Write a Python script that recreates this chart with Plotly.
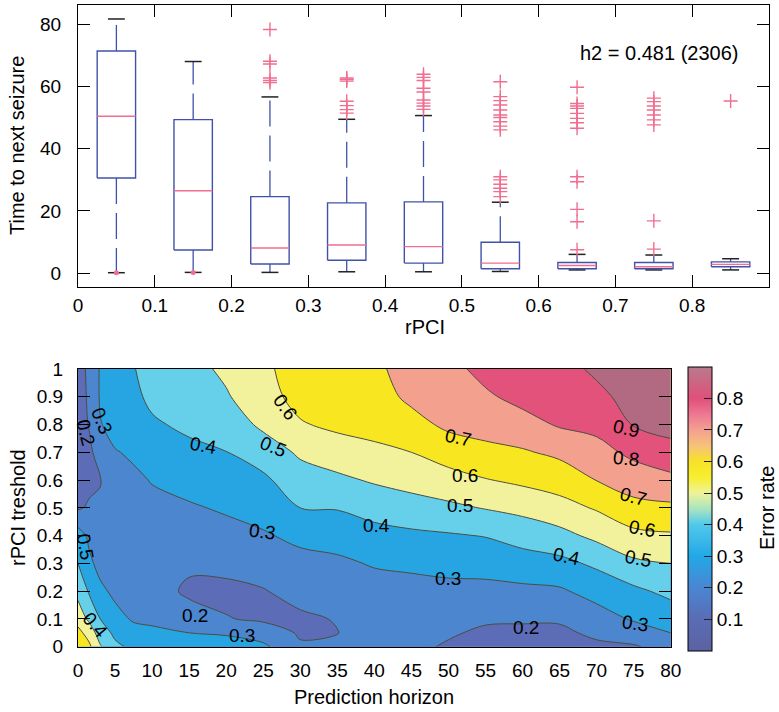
import plotly.graph_objects as go

# ---------------- top panel: box statistics ----------------
rpci = [0.05, 0.15, 0.25, 0.35, 0.45, 0.55, 0.65, 0.75, 0.85]
whisker_low = [0.1, 0.2, 0.2, 0.4, 0.4, 0.5, 1.0, 1.0, 1.0]
q1 = [30.6, 7.4, 2.9, 4.1, 3.2, 1.4, 1.4, 1.4, 2.0]
median = [50.5, 26.5, 8.05, 9.0, 8.5, 3.2, 2.4, 2.0, 2.8]
q3 = [71.5, 49.4, 24.6, 22.6, 22.9, 9.9, 3.4, 3.4, 3.6]
whisker_high = [81.8, 68.1, 56.7, 49.5, 50.7, 22.8, 6.0, 5.8, 4.6]

outlier_x = ([0.25] * 6 + [0.35] * 7 + [0.45] * 9 + [0.55] * 16 +
             [0.65] * 13 + [0.75] * 9 + [0.85] * 1)
outlier_y = ([78.4, 68.2, 67.3, 62.8, 62.0, 61.3] +
             [62.8, 62.3, 61.8, 55.3, 53.9, 52.6, 51.5] +
             [64.0, 63.0, 62.0, 59.5, 58.3, 55.7, 54.7, 53.8, 52.7] +
             [61.6, 56.8, 55.5, 54.1, 52.5, 50.9, 50.1, 48.7, 47.3, 46.1,
              31.0, 30.0, 28.6, 27.3, 26.2, 24.6] +
             [59.8, 54.6, 53.8, 53.0, 51.4, 49.8, 48.4, 46.6, 31.0, 29.4,
              20.5, 16.5, 7.5] +
             [56.3, 55.2, 53.8, 52.5, 50.9, 49.3, 47.7, 16.8, 7.7] +
             [55.4])
low_dot_x = [0.05, 0.15]
low_dot_y = [0.1, 0.2]

# ---------------- bottom panel: error-rate grid ----------------
horizon = [0, 1.5, 3, 5, 7.5, 10, 15, 20, 25, 30, 35, 40, 45, 50, 55, 60, 65, 70, 75, 80]
threshold = [0, 0.05, 0.1, 0.2, 0.3, 0.4, 0.5, 0.6, 0.7, 0.8, 0.9, 1.0]
# one list per horizon column (values from threshold 0 to 1)
error_cols = [
    [0.70, 0.63, 0.56, 0.47, 0.40, 0.345, 0.19, 0.15, 0.15, 0.16, 0.17, 0.18],
    [0.62, 0.56, 0.48, 0.39, 0.32, 0.28, 0.21, 0.18, 0.18, 0.205, 0.21, 0.21],
    [0.51, 0.45, 0.40, 0.32, 0.27, 0.24, 0.215, 0.195, 0.24, 0.295, 0.31, 0.31],
    [0.42, 0.38, 0.33, 0.28, 0.26, 0.255, 0.26, 0.27, 0.295, 0.33, 0.355, 0.37],
    [0.38, 0.33, 0.29, 0.26, 0.25, 0.255, 0.27, 0.285, 0.312, 0.35, 0.38, 0.395],
    [0.37, 0.32, 0.28, 0.25, 0.24, 0.25, 0.28, 0.304, 0.346, 0.387, 0.42, 0.44],
    [0.33, 0.30, 0.25, 0.18, 0.22, 0.25, 0.29, 0.333, 0.376, 0.42, 0.45, 0.465],
    [0.32, 0.295, 0.205, 0.175, 0.23, 0.27, 0.311, 0.354, 0.398, 0.444, 0.49, 0.52],
    [0.32, 0.25, 0.185, 0.195, 0.24, 0.29, 0.337, 0.382, 0.446, 0.52, 0.565, 0.58],
    [0.21, 0.19, 0.185, 0.23, 0.27, 0.323, 0.40, 0.456, 0.515, 0.592, 0.63, 0.645],
    [0.23, 0.198, 0.205, 0.25, 0.28, 0.343, 0.405, 0.48, 0.553, 0.62, 0.645, 0.655],
    [0.22, 0.225, 0.23, 0.255, 0.309, 0.368, 0.435, 0.511, 0.581, 0.63, 0.66, 0.675],
    [0.22, 0.225, 0.235, 0.26, 0.322, 0.381, 0.46, 0.535, 0.60, 0.667, 0.72, 0.75],
    [0.19, 0.21, 0.231, 0.275, 0.328, 0.391, 0.48, 0.563, 0.644, 0.72, 0.755, 0.77],
    [0.17, 0.185, 0.212, 0.273, 0.336, 0.404, 0.505, 0.595, 0.676, 0.735, 0.785, 0.83],
    [0.16, 0.18, 0.211, 0.279, 0.356, 0.438, 0.528, 0.62, 0.69, 0.763, 0.83, 0.86],
    [0.16, 0.18, 0.212, 0.287, 0.373, 0.47, 0.565, 0.644, 0.72, 0.81, 0.845, 0.87],
    [0.18, 0.22, 0.258, 0.335, 0.418, 0.524, 0.609, 0.702, 0.767, 0.826, 0.879, 0.915],
    [0.19, 0.253, 0.31, 0.379, 0.482, 0.574, 0.67, 0.748, 0.822, 0.905, 0.93, 0.94],
    [0.24, 0.30, 0.343, 0.426, 0.50, 0.588, 0.681, 0.773, 0.87, 0.93, 0.94, 0.945],
]
error_rate = [[col[j] for col in error_cols] for j in range(len(threshold))]

# contour level labels as placed in the original (level text, horizon, threshold, angle)
level_labels = [
    ("0.3", 3.2, 0.815, 68), ("0.2", 1.0, 0.77, 75), ("0.4", 16.9, 0.726, 10),
    ("0.5", 26.3, 0.72, 22), ("0.6", 27.9, 0.864, 55), ("0.3", 24.8, 0.414, 8),
    ("0.4", 40.3, 0.438, 0), ("0.5", 0.95, 0.36, 80), ("0.2", 15.8, 0.114, 0),
    ("0.3", 22.1, 0.042, 0), ("0.4", 2.4, 0.078, 50), ("0.7", 51.3, 0.754, 12),
    ("0.6", 52.2, 0.615, 0), ("0.5", 51.6, 0.51, 0), ("0.3", 50.0, 0.246, 0),
    ("0.2", 60.5, 0.07, 0), ("0.9", 74.0, 0.786, 12), ("0.8", 74.0, 0.678, 5),
    ("0.7", 74.9, 0.54, 15), ("0.6", 76.1, 0.426, 10), ("0.5", 75.6, 0.318, 10),
    ("0.4", 66.0, 0.324, 12), ("0.3", 75.2, 0.084, 8),
]

cbar_ticks = [0.1, 0.2, 0.3, 0.4, 0.5, 0.6, 0.7, 0.8]
box_ticks_x = [0, 0.1, 0.2, 0.3, 0.4, 0.5, 0.6, 0.7, 0.8]
box_ticks_y = [0, 20, 40, 60, 80]

FONT = "Liberation Sans, Arial, Helvetica, sans-serif"
BLUE = "#4052a8"
PINK = "#f06e90"
W = 779.0
H = 712.0

fig = go.Figure()

# ---- box plot built from the statistics ----
half_box = 0.025
half_cap = 0.011
bx, by, mx, my, wx, wy, cx, cy = [], [], [], [], [], [], [], []
for x, lo, a, m, b, hi in zip(rpci, whisker_low, q1, median, q3, whisker_high):
    bx += [x - half_box, x + half_box, x + half_box, x - half_box, x - half_box, None]
    by += [a, a, b, b, a, None]
    mx += [x - half_box, x + half_box, None]
    my += [m, m, None]
    wx += [x, x, None, x, x, None]
    wy += [b, hi, None, a, lo, None]
    cx += [x - half_cap, x + half_cap, None, x - half_cap, x + half_cap, None]
    cy += [hi, hi, None, lo, lo, None]

fig.add_trace(go.Scatter(x=wx, y=wy, mode="lines", xaxis="x2", yaxis="y2",
                         line=dict(color=BLUE, width=1.3, dash="26px,9px"),
                         hoverinfo="skip", showlegend=False))
fig.add_trace(go.Scatter(x=cx, y=cy, mode="lines", xaxis="x2", yaxis="y2",
                         line=dict(color="#222222", width=1.5),
                         hoverinfo="skip", showlegend=False))
fig.add_trace(go.Scatter(x=bx, y=by, mode="lines", xaxis="x2", yaxis="y2",
                         line=dict(color=BLUE, width=1.4),
                         hoverinfo="skip", showlegend=False))
fig.add_trace(go.Scatter(x=mx, y=my, mode="lines", xaxis="x2", yaxis="y2",
                         line=dict(color=PINK, width=1.4),
                         hoverinfo="skip", showlegend=False))
fig.add_trace(go.Scatter(x=outlier_x, y=outlier_y, mode="markers", xaxis="x2", yaxis="y2",
                         marker=dict(symbol="cross-thin", size=10,
                                     line=dict(color=PINK, width=1.4)),
                         showlegend=False))
fig.add_trace(go.Scatter(x=low_dot_x, y=low_dot_y, mode="markers", xaxis="x2", yaxis="y2",
                         marker=dict(symbol="circle", size=5, color=PINK),
                         showlegend=False))

# ---- contour panel ----
cbar_scale = [
    [0.0, "#5b62a2"], [0.111, "#5a6cb4"], [0.222, "#4a86d2"], [0.333, "#22a8e6"],
    [0.444, "#50c8ec"], [0.5, "#a8e4c0"], [0.556, "#eef39a"], [0.611, "#f8ee30"],
    [0.667, "#f8e228"], [0.722, "#f6c27a"], [0.778, "#f4a090"], [0.833, "#ec7892"],
    [0.889, "#e0507a"], [1.0, "#b87a8e"],
]
band_colors = ["#5a64a6", "#5c6cb6", "#4c86cf", "#27a5e2", "#66d0ea",
               "#f3f29c", "#f8e620", "#f4a08e", "#e2527a", "#b16a82"]
band_scale = [[k / 9.0, c] for k, c in enumerate(band_colors)]

fig.add_trace(go.Heatmap(
    x=horizon, y=threshold, z=error_rate, colorscale=cbar_scale, zmin=0, zmax=0.9,
    hoverinfo="skip", xaxis="x", yaxis="y",
    colorbar=dict(x=688 / W, xanchor="left", xpad=0, ypad=0, thickness=24,
                  lenmode="fraction", len=(650.7 - 367) / H,
                  y=1 - 508.8 / H, yanchor="middle",
                  outlinewidth=1, outlinecolor="black",
                  tickvals=cbar_ticks, ticks="inside", ticklen=8, tickcolor="#222",
                  tickfont=dict(family=FONT, size=19, color="black")),
))
fig.add_trace(go.Contour(
    x=horizon, y=threshold, z=error_rate, xaxis="x", yaxis="y",
    autocontour=False,
    contours=dict(start=0.1, end=0.9, size=0.1, coloring="fill", showlabels=False),
    colorscale=band_scale, showscale=False,
    line=dict(color="#4d4d40", width=1), hoverinfo="skip",
))

axis_common = dict(showgrid=False, zeroline=False, showline=True, linecolor="black",
                   linewidth=1, automargin=False,
                   tickfont=dict(family=FONT, size=19, color="black"))


def label(text, px, py, angle=0, **kw):
    return dict(text=text, x=px / W, y=1 - py / H, xref="paper", yref="paper",
                xanchor=kw.get("xanchor", "center"), yanchor="middle",
                textangle=angle, showarrow=False,
                font=dict(family=FONT, size=20, color="black"))


annotations = [
    label("h2 = 0.481 (2306)", 740, 53, xanchor="right"),
    label("Time to next seizure", 17, 146, -90),
    label("rPCI", 425, 327),
    label("rPCI treshold", 18, 508, -90),
    label("Prediction horizon", 374, 697),
    label("Error rate", 767, 508, -90),
]
for txt, lx, ly, ang in level_labels:
    annotations.append(dict(text=txt, x=lx, y=ly, xref="x", yref="y",
                            xanchor="center", yanchor="middle", textangle=ang,
                            showarrow=False,
                            font=dict(family=FONT, size=19, color="black")))

fig.update_layout(
    width=779, height=712,
    margin=dict(l=0, r=0, t=0, b=0, autoexpand=False),
    paper_bgcolor="white", plot_bgcolor="white",
    showlegend=False,
    xaxis=dict(domain=[78 / W, 670.7 / W], anchor="y", range=[0, 80],
               tickvals=list(range(0, 81, 5)), ticks="", mirror=True,
               ticklabelstandoff=6, **axis_common),
    yaxis=dict(domain=[1 - 646.7 / H, 1 - 369 / H], anchor="x", range=[0, 1],
               tickvals=[0, 0.1, 0.2, 0.3, 0.4, 0.5, 0.6, 0.7, 0.8, 0.9, 1],
               ticks="inside", ticklen=12, tickcolor="black", mirror="ticks",
               ticklabelstandoff=10, **axis_common),
    xaxis2=dict(domain=[78 / W, 769 / W], anchor="y2", range=[0, 0.9],
                tickvals=box_ticks_x, ticks="inside", ticklen=12, tickcolor="black",
                mirror="ticks", ticklabelstandoff=1, **axis_common),
    yaxis2=dict(domain=[1 - 287 / H, 1 - 5 / H], anchor="x2", range=[-4.5, 86.3],
                tickvals=box_ticks_y, ticks="inside", ticklen=12, tickcolor="black",
                mirror="ticks", ticklabelstandoff=12, **axis_common),
    annotations=annotations,
)

fig.write_html("out.html")
